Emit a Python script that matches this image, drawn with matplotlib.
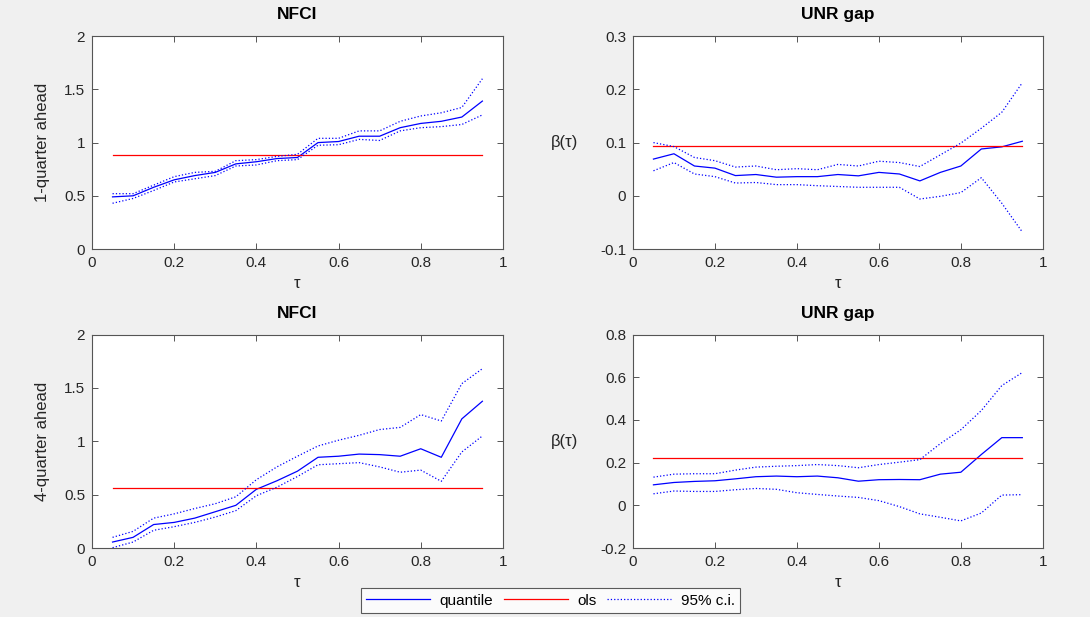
import numpy as np
import matplotlib.pyplot as plt

plt.rcParams['font.family'] = ['Liberation Sans', 'DejaVu Sans']
plt.rcParams['axes.unicode_minus'] = False

# Kwantyle tau
tau = [0.05, 0.10, 0.15, 0.20, 0.25, 0.30, 0.35, 0.40, 0.45, 0.50,
       0.55, 0.60, 0.65, 0.70, 0.75, 0.80, 0.85, 0.90, 0.95]

# NFCI, 1 kwartał
nfci1_q = [0.49, 0.50, 0.58, 0.65, 0.69, 0.72, 0.80, 0.82, 0.85, 0.86,
           1.00, 1.01, 1.06, 1.06, 1.14, 1.18, 1.20, 1.24, 1.39]
nfci1_hi = [0.52, 0.52, 0.60, 0.68, 0.72, 0.73, 0.83, 0.84, 0.87, 0.89,
            1.04, 1.04, 1.11, 1.11, 1.20, 1.25, 1.28, 1.33, 1.60]
nfci1_lo = [0.43, 0.475, 0.55, 0.63, 0.66, 0.69, 0.78, 0.79, 0.83, 0.84,
            0.975, 0.98, 1.03, 1.02, 1.11, 1.14, 1.15, 1.17, 1.26]
nfci1_ols = 0.88

# UNR gap, 1 kwartał
unr1_q = [0.069, 0.079, 0.056, 0.052, 0.038, 0.040, 0.035, 0.036, 0.036, 0.040,
          0.0375, 0.044, 0.041, 0.028, 0.044, 0.056, 0.088, 0.092, 0.1025]
unr1_hi = [0.100, 0.0925, 0.072, 0.066, 0.054, 0.056, 0.049, 0.051, 0.049, 0.059,
           0.056, 0.065, 0.0625, 0.055, 0.077, 0.099, 0.127, 0.157, 0.2125]
unr1_lo = [0.047, 0.0625, 0.041, 0.036, 0.024, 0.025, 0.021, 0.021, 0.019, 0.0175,
           0.016, 0.016, 0.016, -0.006, -0.001, 0.006, 0.034, -0.014, -0.068]
unr1_ols = 0.093

# NFCI, 4 kwartały
nfci4_q = [0.056, 0.10, 0.22, 0.24, 0.28, 0.34, 0.40, 0.55, 0.63, 0.72,
           0.85, 0.86, 0.88, 0.875, 0.86, 0.93, 0.85, 1.21, 1.375]
nfci4_hi = [0.10, 0.156, 0.28, 0.32, 0.37, 0.415, 0.48, 0.64, 0.76, 0.86,
            0.956, 1.01, 1.056, 1.11, 1.13, 1.25, 1.19, 1.54, 1.68]
nfci4_lo = [0.003, 0.056, 0.166, 0.20, 0.24, 0.29, 0.35, 0.49, 0.57, 0.67,
            0.78, 0.79, 0.80, 0.76, 0.71, 0.73, 0.625, 0.90, 1.05]
nfci4_ols = 0.56

# UNR gap, 4 kwartały
unr4_q = [0.096, 0.107, 0.112, 0.115, 0.124, 0.134, 0.137, 0.134, 0.137, 0.129,
          0.113, 0.12, 0.121, 0.12, 0.146, 0.155, 0.238, 0.317, 0.317]
unr4_hi = [0.132, 0.146, 0.148, 0.148, 0.165, 0.179, 0.183, 0.186, 0.191, 0.186,
           0.176, 0.191, 0.202, 0.214, 0.289, 0.354, 0.444, 0.561, 0.622]
unr4_lo = [0.054, 0.067, 0.065, 0.065, 0.073, 0.079, 0.075, 0.059, 0.051, 0.0435,
           0.037, 0.022, -0.006, -0.040, -0.056, -0.073, -0.036, 0.048, 0.050]
unr4_ols = 0.221

panels = [
    ('NFCI', '1-quarter ahead', nfci1_q, nfci1_hi, nfci1_lo, nfci1_ols, [0, 0.5, 1, 1.5, 2]),
    ('UNR gap', 'β(τ)', unr1_q, unr1_hi, unr1_lo, unr1_ols, [-0.1, 0, 0.1, 0.2, 0.3]),
    ('NFCI', '4-quarter ahead', nfci4_q, nfci4_hi, nfci4_lo, nfci4_ols, [0, 0.5, 1, 1.5, 2]),
    ('UNR gap', 'β(τ)', unr4_q, unr4_hi, unr4_lo, unr4_ols, [-0.2, 0, 0.2, 0.4, 0.6, 0.8]),
]

# pozycje osi [left, bottom, width, height]
pos = [[0.0844, 0.5964, 0.377, 0.345],
       [0.5807, 0.5964, 0.376, 0.345],
       [0.0844, 0.1118, 0.377, 0.346],
       [0.5807, 0.1118, 0.376, 0.346]]

fig = plt.figure(figsize=(10.9, 6.17), dpi=100, facecolor='#f0f0f0')
txt = '#262626'

for i, (title, ylab, q, hi, lo, ols, yt) in enumerate(panels):
    ax = fig.add_axes(pos[i])
    ax.plot(tau, q, color='#0000ff', lw=0.9, label='quantile')
    ax.plot(tau, [ols] * len(tau), color='#ff0000', lw=0.9, label='ols')
    ax.plot(tau, hi, color='#0000ff', lw=0.9, ls=':', label='95% c.i.')
    ax.plot(tau, lo, color='#0000ff', lw=0.9, ls=':')
    ax.set_xlim(0, 1)
    ax.set_ylim(yt[0], yt[-1])
    ax.set_xticks([0, 0.2, 0.4, 0.6, 0.8, 1])
    ax.set_xticklabels(['0', '0.2', '0.4', '0.6', '0.8', '1'])
    ax.set_yticks(yt)
    ax.set_yticklabels(['%g' % v for v in yt])
    ax.tick_params(direction='in', top=True, right=True, length=4, width=0.7,
                   labelsize=11, colors='#555555', labelcolor=txt, pad=5)
    for s in ax.spines.values():
        s.set_color('#555555')
        s.set_linewidth(0.8)
    ax.set_title(title, fontsize=12.5, fontweight='bold', color='black', pad=12)
    ax.set_xlabel('τ', fontsize=12, color=txt, labelpad=4)
    if i % 2 == 0:
        ax.set_ylabel(ylab, fontsize=12, color=txt, labelpad=10)
    else:
        ax.set_ylabel(ylab, fontsize=12, color=txt, rotation=0, ha='center', va='center')
        ax.yaxis.set_label_coords(-0.166, 0.5)
    if i == 0:
        handles, labels = ax.get_legend_handles_labels()

leg = fig.legend(handles, labels, loc='lower center', ncol=3, bbox_to_anchor=(0.505, 0.0),
                 fontsize=11, handlelength=4.2, fancybox=False, edgecolor='#333333',
                 borderpad=0.35, columnspacing=0.7, handletextpad=0.6, borderaxespad=0.25)
leg.get_frame().set_linewidth(0.8)

plt.savefig('out.png', dpi=100, facecolor=fig.get_facecolor())
